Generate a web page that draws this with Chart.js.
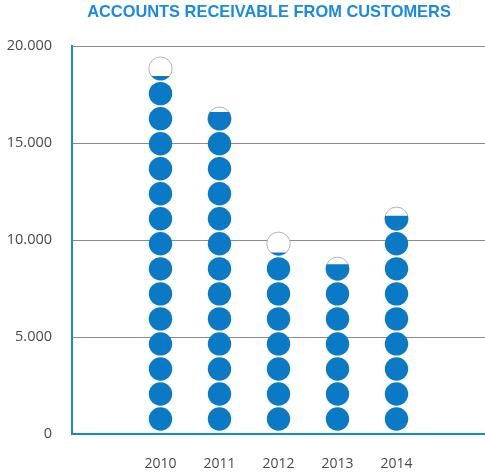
<!DOCTYPE html>
<html lang="en">
  <head>
    <meta charset="utf-8" />
    <title>Accounts receivable from customers</title>
    <script src="https://cdn.jsdelivr.net/npm/chart.js/dist/chart.umd.min.js"></script>
    <style>
      * {
        margin: 0;
        padding: 0;
      }
      body {
        background: #fff;
      }
      .chartBox {
        width: 485px;
        height: 472px;
      }
    </style>
  </head>
  <body>
    <div class="chartBox">
      <canvas id="myChart"></canvas>
    </div>

    <script>
      const title = "ACCOUNTS RECEIVABLE FROM CUSTOMERS";
      const years = ["2010", "2011", "2012", "2013", "2014"];
      const receivables = [18450, 16600, 9350, 8750, 11250];
      const yTicks = [0, 5000, 10000, 15000, 20000];
      const circleUnit = 1290; // amount that one circle stands for

      const circleBlue = "#0a79c6";
      const axisBlue = "#1a84d6";
      const titleBlue = "#1a8ae8";

      // one empty slot on each side keeps the columns off the axes
      const labels = ["", ...years, ""];
      const values = [null, ...receivables, null];

      const dotted = (v) => String(v).replace(/\B(?=(\d{3})+(?!\d))/g, ".");

      // stack of circles per column, the last one only partly filled
      const circleStack = {
        id: "circleStack",
        afterDatasetsDraw(chart) {
          const ctx = chart.ctx;
          const yScale = chart.scales.y;
          const meta = chart.getDatasetMeta(0);
          const r = 11.7;
          meta.data.forEach((bar, i) => {
            const value = values[i];
            if (value == null) return;
            const top = yScale.getPixelForValue(value);
            for (let k = 0; k < 100; k++) {
              const cy = yScale.getPixelForValue(circleUnit * (k + 0.6));
              if (cy + r <= top) break;
              if (cy - r < top) {
                ctx.beginPath();
                ctx.arc(bar.x, cy, r, 0, Math.PI * 2);
                ctx.fillStyle = "#fff";
                ctx.fill();
                ctx.lineWidth = 1;
                ctx.strokeStyle = "#b4b4b4";
                ctx.stroke();
              }
              ctx.save();
              ctx.beginPath();
              ctx.rect(bar.x - r - 2, top, r * 2 + 4, cy + r - top + 2);
              ctx.clip();
              ctx.beginPath();
              ctx.arc(bar.x, cy, r, 0, Math.PI * 2);
              ctx.fillStyle = circleBlue;
              ctx.fill();
              ctx.restore();
            }
          });
        },
      };

      const titleText = {
        id: "titleText",
        afterDraw(chart) {
          const ctx = chart.ctx;
          ctx.save();
          ctx.font = "bold 16.4px 'Liberation Sans', Arial, sans-serif";
          ctx.fillStyle = titleBlue;
          ctx.textAlign = "center";
          ctx.textBaseline = "middle";
          ctx.fillText(title, 269, 12);
          ctx.restore();
        },
      };

      const config = {
        type: "bar",
        data: {
          labels: labels,
          datasets: [
            {
              data: values,
              backgroundColor: "rgba(0,0,0,0)",
              borderWidth: 0,
            },
          ],
        },
        options: {
          responsive: true,
          maintainAspectRatio: false,
          animation: false,
          layout: {
            padding: { top: 46, left: 0, right: 0, bottom: 0 },
          },
          plugins: {
            legend: { display: false },
            tooltip: { enabled: false },
          },
          scales: {
            x: {
              grid: { display: false },
              border: { color: axisBlue, width: 2 },
              ticks: {
                color: "#4a4a4a",
                font: { family: "'Open Sans', sans-serif", size: 14 },
                padding: 14,
                maxRotation: 0,
              },
              afterFit: (s) => {
                s.height = 38;
              },
            },
            y: {
              z: 1,
              min: 0,
              max: 20000,
              afterBuildTicks: (s) => {
                s.ticks = yTicks.map((v) => ({ value: v }));
              },
              grid: {
                drawTicks: false,
                color: (c) => (c.tick && c.tick.value === 0 ? "rgba(0,0,0,0)" : "#8c8c8c"),
                lineWidth: 1,
              },
              border: { color: axisBlue, width: 2 },
              ticks: {
                color: "#4a4a4a",
                font: { family: "'Open Sans', sans-serif", size: 14.5 },
                padding: 20,
                callback: (v) => dotted(v),
              },
              afterFit: (s) => {
                s.width = 72;
              },
            },
          },
        },
        plugins: [circleStack, titleText],
      };

      var myChart = new Chart(document.getElementById("myChart"), config);
    </script>
  </body>
</html>
